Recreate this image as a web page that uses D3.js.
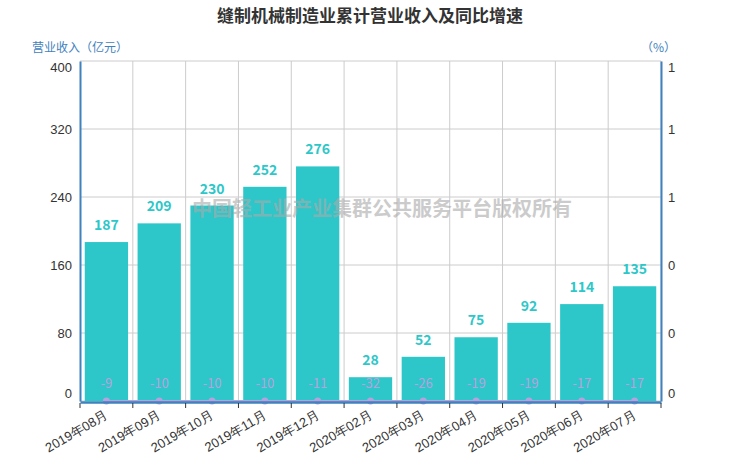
<!DOCTYPE html>
<html>
<head>
<meta charset="utf-8">
<script src="https://cdn.jsdelivr.net/npm/d3@7"></script>
<style>
body{margin:0;background:#fff;}
svg{font-family:"Microsoft YaHei","Noto Sans CJK SC",sans-serif;}
</style>
</head>
<body>
<svg id="chart" width="740" height="462"></svg>
<script>
const months = ["2019年08月","2019年09月","2019年10月","2019年11月","2019年12月","2020年02月","2020年03月","2020年04月","2020年05月","2020年06月","2020年07月"];
const revenue = [187,209,230,252,276,28,52,75,92,114,135];
const growth = [-9,-10,-10,-10,-11,-32,-26,-19,-19,-17,-17];
const leftTicks = [0,80,160,240,320,400];
const rightTicks = [0,0.2,0.4,0.6,0.8,1];

const chart = d3.select("#chart");
const margin = {left:80,right:79,top:61,bottom:60};
const width = 740, height = 462;
const axisColor = "#3f82bd";

let x = d3.scaleBand()
	.domain(months)
	.range([margin.left, width - margin.right])
	.paddingInner(0.18).paddingOuter(0.09);
let xEdge = d3.scaleBand().domain(months).range([margin.left, width - margin.right]);
let y = d3.scaleLinear().domain([0,400]).range([height - margin.bottom - 1, margin.top]);
let y2 = d3.scaleLinear().domain([0,1]).range([height - margin.bottom - 1, margin.top]).clamp(true);

// grid
let grid = chart.append("g");
grid.selectAll("line.h").data(leftTicks).enter().append("line")
	.attr("x1", margin.left).attr("x2", width - margin.right)
	.attr("y1", d => y(d)).attr("y2", d => y(d))
	.attr("stroke","#ccc");
grid.selectAll("line.v").data(months).enter().append("line")
	.attr("x1", d => xEdge(d) + xEdge.bandwidth())
	.attr("x2", d => xEdge(d) + xEdge.bandwidth())
	.attr("y1", margin.top).attr("y2", y(0))
	.attr("stroke","#ccc");

// title
chart.append("text").attr("x",370).attr("y",22).attr("text-anchor","middle")
	.style("font-size","17px").style("font-weight","bold").style("fill","#333")
	.text("缝制机械制造业累计营业收入及同比增速");

chart.append("text").attr("x",32).attr("y",52)
	.style("font-size","12px").style("fill",axisColor).text("营业收入（亿元）");
chart.append("text").attr("x",676).attr("y",52).attr("text-anchor","end")
	.style("font-size","12px").style("fill",axisColor).text("（%）");

// bars
chart.append("g").selectAll("rect").data(revenue).enter().append("rect")
	.attr("x",(d,i) => x(months[i]))
	.attr("y", d => y(d))
	.attr("width", x.bandwidth())
	.attr("height", d => y(0) - y(d))
	.attr("fill","#2ec7c9");

chart.append("g").selectAll("text").data(revenue).enter().append("text")
	.attr("x",(d,i) => x(months[i]) + x.bandwidth()/2)
	.attr("y", d => y(d) - 12)
	.attr("text-anchor","middle")
	.style("font-size","14px").style("font-weight","bold").style("fill","#2ec7c9")
	.text(d => d);

// watermark
chart.append("text").attr("x",382).attr("y",216).attr("text-anchor","middle")
	.style("font-size","20px").style("font-weight","bold").style("fill","#aaa").style("opacity",0.6)
	.text("中国轻工业产业集群公共服务平台版权所有");

// line series
let line = d3.line()
	.x((d,i) => x(months[i]) + x.bandwidth()/2)
	.y(d => y2(d));
chart.append("path").datum(growth)
	.attr("d", line).attr("fill","none")
	.attr("stroke","#b6a2de").attr("stroke-width",2);
chart.append("g").selectAll("circle").data(growth).enter().append("circle")
	.attr("cx",(d,i) => x(months[i]) + x.bandwidth()/2)
	.attr("cy", d => y2(d))
	.attr("r",3.5).attr("fill","#b6a2de");
chart.append("g").selectAll("text").data(growth).enter().append("text")
	.attr("x",(d,i) => x(months[i]) + x.bandwidth()/2)
	.attr("y", d => y2(d) - 13)
	.attr("text-anchor","middle")
	.style("font-size","13px").style("fill","#b6a2de")
	.text(d => d);

// axes
const edgeShift = (d,i,n) => i === 0 ? "-0.3em" : (i === n.length - 1 ? "0.8em" : "0.32em");
let yAxis = d3.axisLeft(y).tickValues(leftTicks).tickSize(0).tickPadding(8);
let gy = chart.append("g").attr("transform",`translate(${margin.left},0)`).call(yAxis);
gy.select(".domain").attr("stroke",axisColor).attr("stroke-width",2);
gy.selectAll("text").style("font-size","13px").style("fill","#333").attr("dy", edgeShift);

let y2Axis = d3.axisRight(y2).tickValues(rightTicks).tickSize(0).tickPadding(7)
	.tickFormat(d => Math.round(d));
let gy2 = chart.append("g").attr("transform",`translate(${width - margin.right},0)`).call(y2Axis);
gy2.select(".domain").attr("stroke",axisColor).attr("stroke-width",2);
gy2.selectAll("text").style("font-size","13px").style("fill","#333").attr("dy", edgeShift);

let xAxis = d3.axisBottom(xEdge).tickSize(0);
let gx = chart.append("g").attr("transform",`translate(0,${y(0) + 1})`).call(xAxis);
gx.select(".domain").attr("stroke",axisColor).attr("stroke-width",2.5);
gx.selectAll(".tick text")
	.style("font-size","13px").style("fill","#333")
	.style("text-anchor","end")
	.attr("y",15).attr("x",-6).attr("dy",0)
	.attr("transform","rotate(-30)");
// tick marks at band edges
const edges = months.map(d => xEdge(d)).concat([width - margin.right]);
chart.append("g").selectAll("line").data(edges).enter().append("line")
	.attr("x1", d => d).attr("x2", d => d)
	.attr("y1", y(0) + 2).attr("y2", y(0) + 7)
	.attr("stroke","#333");
</script>
</body>
</html>
